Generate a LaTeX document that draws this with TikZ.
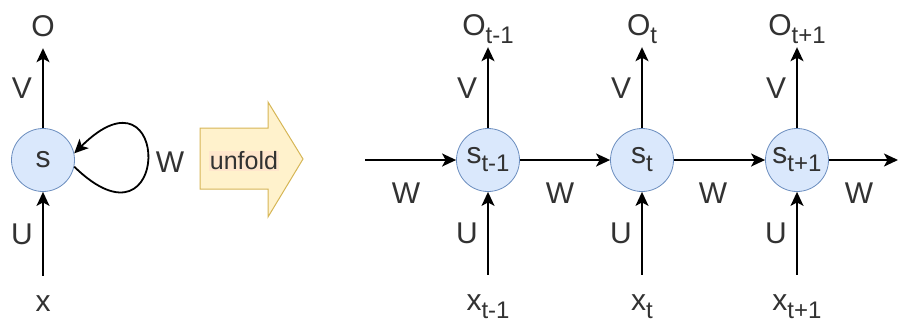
\documentclass[tikz,border=0pt]{standalone}
\usepackage{fontspec}
\setmainfont{Liberation Sans}
\usetikzlibrary{arrows.meta}
\definecolor{CellBlue}{HTML}{DAE8FC}
\definecolor{CellEdge}{HTML}{6C8EBF}
\definecolor{FoldYellow}{HTML}{FFF2CC}
\definecolor{FoldEdge}{HTML}{D6B656}
\definecolor{FoldText}{HTML}{FFE6CC}
\definecolor{InkGray}{RGB}{50,50,50}
\newcommand{\lowidx}[1]{\raisebox{-8pt}{\fontsize{24}{24}\selectfont #1}}
\tikzset{
  cell/.style={circle,draw=CellEdge,fill=CellBlue,line width=0.8pt,
    minimum size=63pt,inner sep=0pt,text=InkGray,font=\fontsize{30}{33}\selectfont},
  lab/.style={anchor=base,inner sep=0pt,text=InkGray,font=\fontsize{30}{33}\selectfont},
  io/.style={lab,text height=16pt,text depth=8pt},
  link/.style={-{Stealth[length=14pt,width=13pt,inset=3.5pt]},line width=1.8pt},
  tolabel/.style={link,shorten >=4pt},
  fromlabel/.style={link,shorten <=19pt}
}

\begin{document}
\begin{tikzpicture}[x=1pt,y=-1pt]
      \useasboundingbox (0,0) rectangle (899,325);
      % folded network
      \node[cell] (s) at (43,160) {s};
      \node[io] (o) at (43,36) {O};
      \node[io] (x) at (43,311) {x};
      \node[lab] (v) at (22,98) {V};
      \node[lab] (u) at (22,244) {U};
      \node[lab] (wloop) at (170,172) {W};
      \draw[tolabel] (s) -- (o);
      \draw[fromlabel] (x) -- (s);
      \draw[link] (s.-12) .. controls (172,262) and (172,56) .. (s.12);
      % unfold arrow
      \draw[FoldEdge,fill=FoldYellow,line width=1pt] (200,128) -- (268,128)
        -- (268,102) -- (303,159) -- (268,217) -- (268,189) -- (200,189) -- cycle;
      \node[fill=FoldText,inner sep=1pt,text=InkGray,
        font=\fontsize{25}{28}\selectfont] (unfold) at (244,161) {unfold};
      % unfolded network
      \node[cell] (s1) at (488,160) {s\lowidx{t-1}};
      \node[cell] (s2) at (642,160) {s\lowidx{t}};
      \node[cell] (s3) at (797,160) {s\lowidx{t+1}};
      \node[io] (o1) at (488,35) {O\lowidx{t-1}};
      \node[io] (o2) at (642,35) {O\lowidx{t}};
      \node[io] (o3) at (797,35) {O\lowidx{t+1}};
      \node[io] (x1) at (488,310) {x\lowidx{t-1}};
      \node[io] (x2) at (642,310) {x\lowidx{t}};
      \node[io] (x3) at (797,310) {x\lowidx{t+1}};
      \node[lab] (v1) at (467,98) {V};
      \node[lab] (v2) at (621,98) {V};
      \node[lab] (v3) at (776,98) {V};
      \node[lab] (u1) at (467,243) {U};
      \node[lab] (u2) at (621,243) {U};
      \node[lab] (u3) at (776,243) {U};
      \node[lab] (w0) at (406,203) {W};
      \node[lab] (w1) at (560,203) {W};
      \node[lab] (w2) at (713,203) {W};
      \node[lab] (w3) at (859,203) {W};
      \coordinate (win) at (365,160);
      \coordinate (wout) at (898,160);
      \draw[tolabel] (s1) -- (o1);
      \draw[tolabel] (s2) -- (o2);
      \draw[tolabel] (s3) -- (o3);
      \draw[fromlabel] (x1) -- (s1);
      \draw[fromlabel] (x2) -- (s2);
      \draw[fromlabel] (x3) -- (s3);
      \draw[link] (win) -- (s1);
      \draw[link] (s1) -- (s2);
      \draw[link] (s2) -- (s3);
      \draw[link] (s3) -- (wout);
    \end{tikzpicture}
\end{document}
